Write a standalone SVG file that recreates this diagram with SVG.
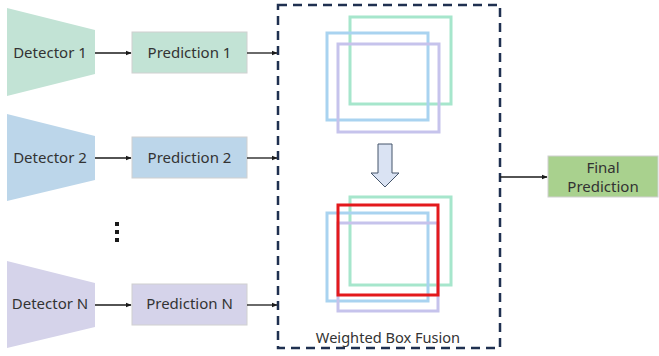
<svg xmlns="http://www.w3.org/2000/svg" width="659" height="356" viewBox="0 0 659 356">
<defs>
<marker id="ah" viewBox="0 0 10 10" refX="9" refY="5" markerWidth="6" markerHeight="6" orient="auto" markerUnits="userSpaceOnUse">
<path d="M0,1 L10,5 L0,9 z" fill="#1a1a1a"/>
</marker>
<style>
.t{font-family:"Noto Sans","Open Sans","Liberation Sans",sans-serif;font-size:15px;fill:#333;text-anchor:middle}
.pr{stroke:#d0d0d0;stroke-width:1}
.ln{stroke:#1a1a1a;stroke-width:1.3;fill:none;marker-end:url(#ah)}
.bx{fill:none;stroke-width:3}
.g{stroke:#a6e6cc}
.b{stroke:#a9d3f0}
.p{stroke:#c6c3ec}
</style>
</defs>
<rect width="659" height="356" fill="#fff"/>
<g id="det1"><polygon points="7,8 95,30 95,74 7,96" fill="#c2e3d5"/><text class="t" x="50" y="58">Detector 1</text></g>
<g id="det2"><polygon points="7,114 95,136 95,180 7,201" fill="#bcd6ea"/><text class="t" x="50" y="163">Detector 2</text></g>
<g id="detN"><polygon points="7,261 95,283 95,327 7,348" fill="#d5d3ea"/><text class="t" x="50" y="309">Detector N</text></g>
<g id="pred1"><rect class="pr" x="132" y="32" width="115" height="41" fill="#c2e3d5"/><text class="t" x="189.5" y="58">Prediction 1</text></g>
<g id="pred2"><rect class="pr" x="132" y="137" width="115" height="41" fill="#bcd6ea"/><text class="t" x="189.5" y="163">Prediction 2</text></g>
<g id="predN"><rect class="pr" x="132" y="284" width="115" height="41" fill="#d5d3ea"/><text class="t" x="189.5" y="309">Prediction N</text></g>
<g id="dots" fill="#1a1a1a"><rect x="115" y="222" width="4" height="4"/><rect x="115" y="230" width="4" height="4"/><rect x="115" y="238" width="4" height="4"/></g>
<g id="wbf">
<rect x="278" y="5" width="222" height="343" fill="none" stroke="#1f3050" stroke-width="2.5" stroke-dasharray="9,6"/>
<rect class="bx g" x="350" y="17" width="101" height="87"/>
<rect class="bx b" x="327" y="33" width="101" height="87"/>
<rect class="bx p" x="338" y="44" width="101" height="88"/>
<polygon points="378,144 392,144 392,173 399,173 385,187 371,173 378,173" fill="#dae3f3" stroke="#44546a" stroke-width="1"/>
<rect class="bx g" x="350" y="197" width="101" height="88"/>
<rect class="bx b" x="327" y="213" width="101" height="88"/>
<rect class="bx p" x="338" y="223" width="100" height="88"/>
<rect class="bx" x="338" y="205" width="100" height="90" stroke="#e3191c"/>
<text class="t" x="388" y="343" style="font-size:14.6px">Weighted Box Fusion</text>
</g>
<g id="final"><rect class="pr" x="548" y="156" width="110" height="41" fill="#a9d18e"/><text class="t" x="603" y="173">Final</text><text class="t" x="603" y="192">Prediction</text></g>
<g id="connectors">
<line class="ln" x1="95" y1="53" x2="131" y2="53"/>
<line class="ln" x1="95" y1="158" x2="131" y2="158"/>
<line class="ln" x1="95" y1="305" x2="131" y2="305"/>
<line class="ln" x1="247" y1="53" x2="277" y2="53"/>
<line class="ln" x1="247" y1="158" x2="277" y2="158"/>
<line class="ln" x1="247" y1="305" x2="277" y2="305"/>
<line class="ln" x1="500" y1="177" x2="547" y2="177"/>
</g>
</svg>
